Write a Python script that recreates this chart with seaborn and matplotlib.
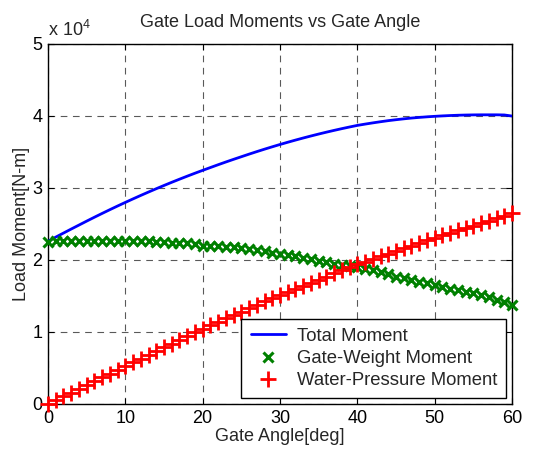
import numpy as np
import pandas as pd
import seaborn as sns
import matplotlib.pyplot as plt

# gate angle in degrees, moments in units of 1e4 N-m
angle = list(range(0, 61))

total_moment = [
    2.260, 2.317, 2.373, 2.429, 2.484, 2.539, 2.593, 2.646, 2.698, 2.749,
    2.799, 2.848, 2.896, 2.943, 2.989, 3.034, 3.078, 3.121, 3.163, 3.204,
    3.244, 3.283, 3.322, 3.360, 3.397, 3.433, 3.469, 3.504, 3.538, 3.571,
    3.603, 3.634, 3.664, 3.693, 3.721, 3.748, 3.774, 3.799, 3.823, 3.846,
    3.868, 3.886, 3.903, 3.919, 3.934, 3.947, 3.959, 3.970, 3.979, 3.987,
    3.994, 4.000, 4.005, 4.009, 4.012, 4.014, 4.015, 4.015, 4.015, 4.013,
    3.998,
]

weight_moment = [
    2.245, 2.260, 2.262, 2.263, 2.263, 2.264, 2.264, 2.264, 2.264, 2.263,
    2.262, 2.261, 2.260, 2.258, 2.250, 2.245, 2.240, 2.235, 2.230, 2.220,
    2.200, 2.195, 2.190, 2.180, 2.175, 2.165, 2.150, 2.135, 2.120, 2.100,
    2.080, 2.065, 2.050, 2.030, 2.010, 1.990, 1.970, 1.950, 1.930, 1.915,
    1.900, 1.880, 1.855, 1.830, 1.800, 1.770, 1.745, 1.720, 1.700, 1.675,
    1.650, 1.625, 1.600, 1.580, 1.560, 1.540, 1.510, 1.480, 1.450, 1.410,
    1.370,
]

pressure_moment = [
    0.000, 0.053, 0.105, 0.158, 0.210, 0.263, 0.315, 0.368, 0.420, 0.473,
    0.525, 0.578, 0.630, 0.682, 0.734, 0.786, 0.838, 0.890, 0.942, 0.994,
    1.046, 1.094, 1.141, 1.188, 1.235, 1.282, 1.329, 1.376, 1.423, 1.470,
    1.518, 1.560, 1.602, 1.644, 1.686, 1.728, 1.770, 1.812, 1.854, 1.896,
    1.938, 1.975, 2.012, 2.049, 2.086, 2.123, 2.160, 2.197, 2.234, 2.271,
    2.308, 2.342, 2.376, 2.410, 2.444, 2.478, 2.512, 2.546, 2.580, 2.614,
    2.648,
]

df = pd.DataFrame({
    'angle': angle,
    'total': total_moment,
    'weight': weight_moment,
    'pressure': pressure_moment,
})

sns.set_style('white')
plt.rcParams['font.family'] = ['Liberation Sans', 'DejaVu Sans']
plt.rcParams['mathtext.fontset'] = 'custom'
plt.rcParams['mathtext.rm'] = 'Liberation Sans'

fig = plt.figure(figsize=(5.55, 4.57), dpi=100)
ax = fig.add_axes([0.0865, 0.116, 0.836, 0.788])

sns.lineplot(data=df, x='angle', y='total', ax=ax, color='#0000ff',
             linewidth=2, label='Total Moment', zorder=3)
sns.lineplot(data=df, x='angle', y='weight', ax=ax, color='#008000',
             linestyle='none', marker='x', markersize=6.5, markeredgewidth=2.2,
             markeredgecolor='#008000', label='Gate-Weight Moment',
             clip_on=False, zorder=3)
sns.lineplot(data=df, x='angle', y='pressure', ax=ax, color='#ff0000',
             linestyle='none', marker='+', markersize=11, markeredgewidth=2,
             markeredgecolor='#ff0000', label='Water-Pressure Moment',
             clip_on=False, zorder=3)

ax.set_xlim(0, 60)
ax.set_ylim(0, 5)
ax.set_xticks([0, 10, 20, 30, 40, 50, 60])
ax.set_yticks([0, 1, 2, 3, 4, 5])
ax.grid(True, color='black', linestyle=(0, (6, 5)), linewidth=0.8, alpha=0.65)
for s in ax.spines.values():
    s.set_color('black')
    s.set_linewidth(1)
    s.set_visible(True)
ax.tick_params(axis='both', labelsize=13, direction='in', length=4,
               colors='black', top=True, right=True, bottom=True, left=True,
               pad=4)

ax.set_title('Gate Load Moments vs Gate Angle', fontsize=13, pad=12)
ax.set_xlabel('Gate Angle[deg]', fontsize=13, labelpad=1)
ax.set_ylabel('Load Moment[N-m]', fontsize=13, labelpad=2)
ax.text(0.0, 1.012, r'x 10$^{4}$', transform=ax.transAxes, fontsize=13,
        ha='left', va='bottom')

leg = ax.legend(loc='lower right', fontsize=13.3, frameon=True, fancybox=False,
                edgecolor='black', framealpha=1, borderaxespad=0.3,
                handlelength=1.9, handletextpad=0.6, labelspacing=0.28,
                borderpad=0.5)
leg.get_frame().set_linewidth(1)
leg.set_zorder(5)

fig.savefig('out.png', dpi=100)
